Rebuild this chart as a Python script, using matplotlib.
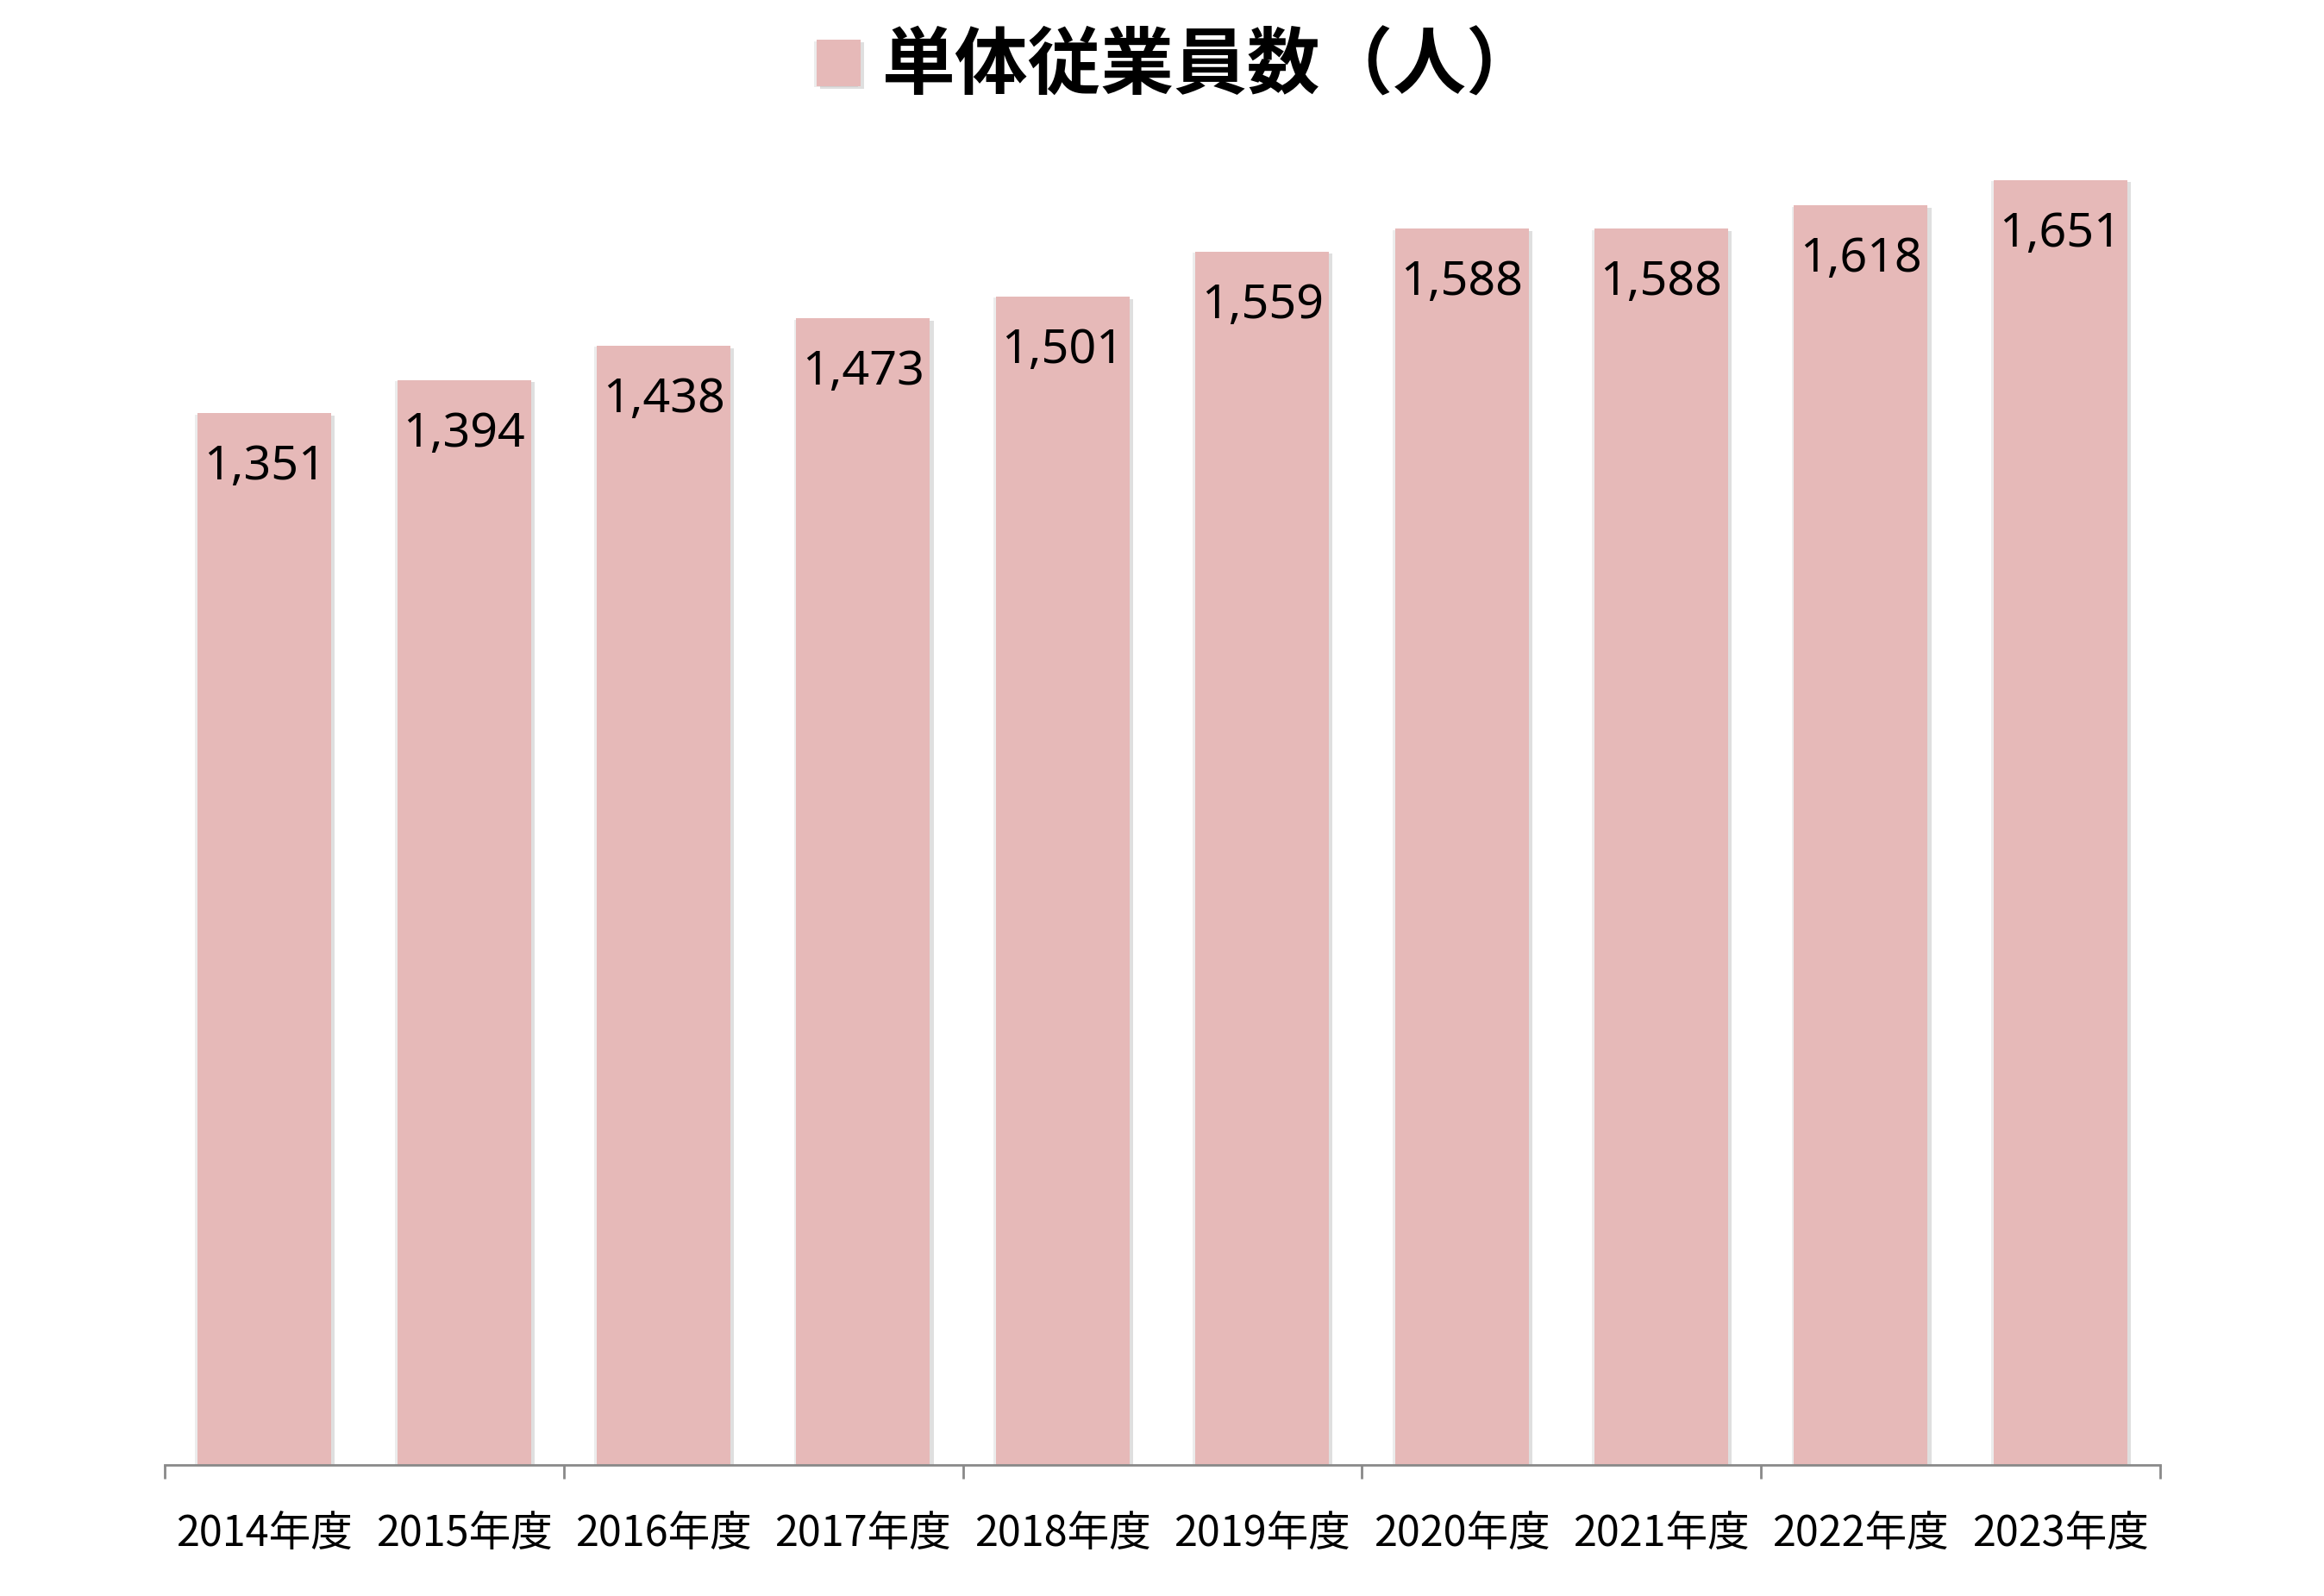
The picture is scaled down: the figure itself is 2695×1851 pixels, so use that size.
import matplotlib.pyplot as plt
import matplotlib.patheffects as pe

plt.rcParams['font.family'] = ['Noto Sans CJK JP', 'DejaVu Sans']

# data
years = ['2014年度', '2015年度', '2016年度', '2017年度', '2018年度',
         '2019年度', '2020年度', '2021年度', '2022年度', '2023年度']
employees = [1351, 1394, 1438, 1473, 1501, 1559, 1588, 1588, 1618, 1651]
series_name = '単体従業員数（人）'

bar_color = '#E6B9B8'
axis_color = '#898989'

fig = plt.figure(figsize=(26.95, 18.51), dpi=100)
ax = fig.add_axes([0.0709, 0.0821, 0.9295 - 0.0709, 0.960 - 0.0821])

x = list(range(len(years)))
bars = ax.bar(x, employees, width=0.67, color=bar_color, label=series_name, zorder=2)
# soft-ish shadow on both sides like the original
for b in bars:
    b.set_path_effects([pe.SimplePatchShadow(offset=(-2, -1), shadow_rgbFace='#808080', alpha=0.15),
                        pe.SimplePatchShadow(offset=(3, -2), shadow_rgbFace='#808080', alpha=0.25),
                        pe.Normal()])

# value labels just inside the top of each bar
for xi, v in zip(x, employees):
    ax.annotate(f'{v:,}', xy=(xi, v), xytext=(0, -45), textcoords='offset points',
                ha='center', va='center', fontsize=40, family='Noto Sans', color='black',
                zorder=3)

ax.set_xlim(-0.5, len(years) - 0.5)
ax.set_ylim(0, 1800)

# axis: only the bottom line, ticks every two categories
for side in ['top', 'right', 'left']:
    ax.spines[side].set_visible(False)
ax.spines['bottom'].set_color(axis_color)
ax.spines['bottom'].set_linewidth(2)
ax.set_yticks([])

ax.set_xticks([-0.5, 1.5, 3.5, 5.5, 7.5, 9.5])
ax.set_xticklabels([])
ax.tick_params(axis='x', which='major', direction='out', length=11.5, width=2, color=axis_color)
ax.set_xticks(x, minor=True)
ax.set_xticklabels(years, minor=True)
ax.tick_params(axis='x', which='minor', length=0, pad=40, labelsize=35)

# series name shown as a legend at the top
fig.legend(loc='center', bbox_to_anchor=(0.507, 0.958), frameon=False,
           prop={'family': ['Noto Sans CJK JP'], 'weight': 'bold', 'size': 61},
           handlelength=0.6, handleheight=0.6, handletextpad=0.3)

fig.savefig('out.png', dpi=100, facecolor='white')
